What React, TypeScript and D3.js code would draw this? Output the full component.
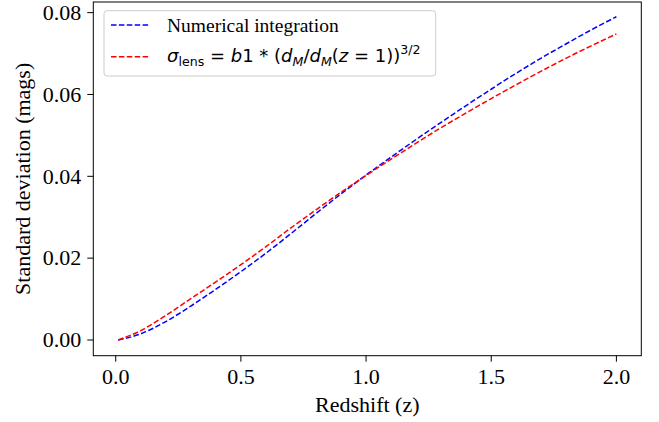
import * as d3 from 'd3';
import React, { useEffect } from 'react';

// values
const redshift = [0.01, 0.1, 0.2, 0.3, 0.4, 0.5, 0.6, 0.7, 0.8, 0.9, 1.0, 1.1, 1.2, 1.3, 1.4, 1.5, 1.6, 1.7, 1.8, 1.9, 2.0];
const numerical = [0.0, 0.0015, 0.0045, 0.0083, 0.0124, 0.0167, 0.0212, 0.026, 0.0309, 0.0357, 0.0403, 0.0447, 0.049, 0.0532, 0.0573, 0.0613, 0.0652, 0.0689, 0.0724, 0.0758, 0.079];
const powerLaw = [0.0, 0.0023, 0.006, 0.0101, 0.0142, 0.0184, 0.0228, 0.0274, 0.0318, 0.0361, 0.0402, 0.0442, 0.0481, 0.0519, 0.0555, 0.059, 0.0624, 0.0657, 0.0689, 0.0719, 0.0748];
const xTicks = [0, 0.5, 1.0, 1.5, 2.0];
const yTicks = [0, 0.02, 0.04, 0.06, 0.08];

const W = 659;
const H = 422;
const plot = { left: 93.3, right: 641.3, top: 2, bottom: 355.7 };
const serif = "'Liberation Serif', 'Times New Roman', serif";
const sans = "'DejaVu Sans', sans-serif";

export default function App() {
  useEffect(() => {
    document.body.style.margin = '0';
  }, []);

  const x = d3.scaleLinear().domain([-0.0895, 2.0995]).range([plot.left, plot.right]);
  const y = d3.scaleLinear().domain([-0.00384, 0.0826]).range([plot.bottom, plot.top]);

  const line = d3
    .line<number>()
    .x((_d, i) => x(redshift[i]))
    .y((d) => y(d))
    .curve(d3.curveMonotoneX);

  const dash = '5.5,2.4';

  return (
    <svg width={W} height={H} style={{ display: 'block', background: '#fff' }}>
      <path d={line(numerical) || ''} fill="none" stroke="#0000ff" strokeWidth={1.5} strokeDasharray={dash} />
      <path d={line(powerLaw) || ''} fill="none" stroke="#ff0000" strokeWidth={1.5} strokeDasharray={dash} />

      {/* frame */}
      <rect
        x={plot.left}
        y={plot.top}
        width={plot.right - plot.left}
        height={plot.bottom - plot.top}
        fill="none"
        stroke="#000"
        strokeWidth={1}
      />

      {/* x axis */}
      {xTicks.map((t) => (
        <g key={`x${t}`} transform={`translate(${x(t)},${plot.bottom})`}>
          <line y2={6} stroke="#000" strokeWidth={1} />
          <text y={28} textAnchor="middle" fontFamily={serif} fontSize={22} fill="#000">
            {t.toFixed(1)}
          </text>
        </g>
      ))}
      <text x={(plot.left + plot.right) / 2} y={412} textAnchor="middle" fontFamily={serif} fontSize={22} fill="#000">
        Redshift (z)
      </text>

      {/* y axis */}
      {yTicks.map((t) => (
        <g key={`y${t}`} transform={`translate(${plot.left},${y(t)})`}>
          <line x2={-6} stroke="#000" strokeWidth={1} />
          <text x={-12} y={7.3} textAnchor="end" fontFamily={serif} fontSize={22} fill="#000">
            {t.toFixed(2)}
          </text>
        </g>
      ))}
      <text
        transform={`translate(29.5,${(plot.top + plot.bottom) / 2}) rotate(-90)`}
        textAnchor="middle"
        fontFamily={serif}
        fontSize={22}
        fill="#000"
      >
        Standard deviation (mags)
      </text>

      {/* legend */}
      <g>
        <rect x={104} y={10.7} width={331.7} height={65.3} rx={3} fill="#fff" fillOpacity={0.8} stroke="#cccccc" strokeWidth={1} />
        <line x1={111} x2={150} y1={25} y2={25} stroke="#0000ff" strokeWidth={1.5} strokeDasharray={dash} />
        <text x={167} y={32.3} fontFamily={serif} fontSize={19.5} fill="#000">
          Numerical integration
        </text>
        <line x1={111} x2={150} y1={56.7} y2={56.7} stroke="#ff0000" strokeWidth={1.5} strokeDasharray={dash} />
        <text x={167} y={62} fontFamily={sans} fontSize={18} fill="#000">
          <tspan fontStyle="italic">σ</tspan>
          <tspan fontSize={12.6} dy={4}>lens</tspan>
          <tspan dy={-4}> = </tspan>
          <tspan fontStyle="italic">b</tspan>
          <tspan>1 * (</tspan>
          <tspan fontStyle="italic">d</tspan>
          <tspan fontStyle="italic" fontSize={12.6} dy={4}>M</tspan>
          <tspan dy={-4}>/</tspan>
          <tspan fontStyle="italic">d</tspan>
          <tspan fontStyle="italic" fontSize={12.6} dy={4}>M</tspan>
          <tspan dy={-4}>(</tspan>
          <tspan fontStyle="italic">z</tspan>
          <tspan> = 1))</tspan>
          <tspan fontSize={12.6} dy={-8}>3/2</tspan>
        </text>
      </g>
    </svg>
  );
}
